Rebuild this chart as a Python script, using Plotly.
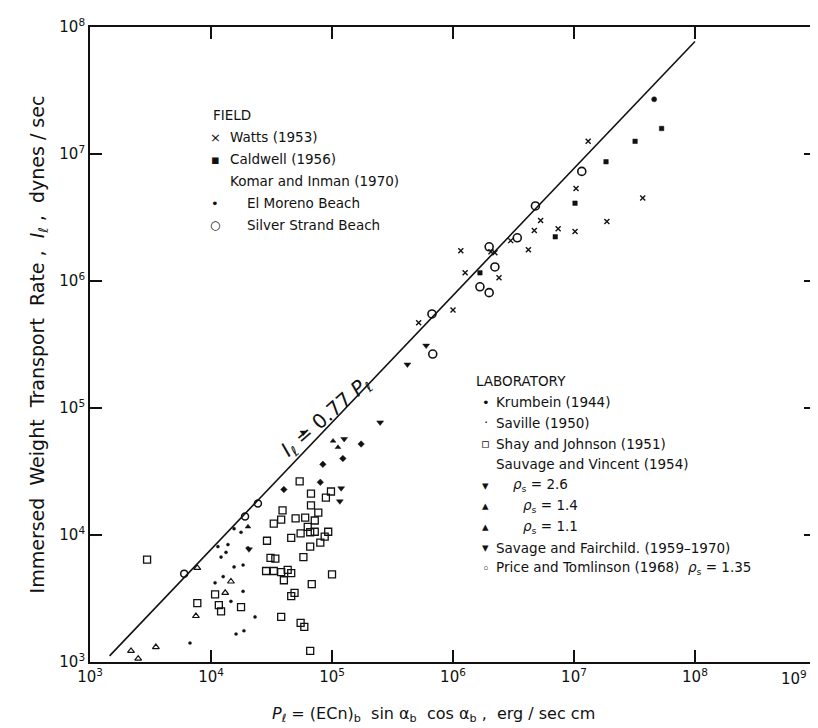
import plotly.graph_objects as go

# ---------------- data ----------------
# FIELD
watts_P = [1.31e7, 1.04e7, 1.87e7, 1.02e7, 7.4e6, 5.3e6, 4.7e6, 4.2e6, 3.0e6, 2.22e6,
           2.4e6, 1.16e6, 1.26e6, 1.0e6, 5.2e5, 3.7e7, 2.06e6]
watts_I = [1.26e7, 5.35e6, 2.94e6, 2.45e6, 2.58e6, 3.0e6, 2.5e6, 1.76e6, 2.08e6, 1.67e6,
           1.06e6, 1.73e6, 1.16e6, 5.9e5, 4.7e5, 4.5e6, 1.70e6]

caldwell_P = [3.2e7, 5.3e7, 1.84e7, 1.02e7, 7.0e6, 1.67e6]
caldwell_I = [1.26e7, 1.59e7, 8.7e6, 4.1e6, 2.23e6, 1.16e6]

elmoreno_P = [4.6e7]
elmoreno_I = [2.7e7]

silver_P = [1.16e7, 4.8e6, 3.4e6, 1.99e6, 2.22e6, 1.67e6, 1.99e6, 6.7e5, 6.8e5]
silver_I = [7.3e6, 3.9e6, 2.19e6, 1.86e6, 1.29e6, 9.0e5, 8.1e5, 5.5e5, 2.66e5]

# LABORATORY
krumbein_P = [1.23e5, 1.74e5, 8.4e4, 8.0e4, 4.0e4]
krumbein_I = [4.0e4, 5.2e4, 3.6e4, 2.6e4, 2.28e4]

saville_P = [2.31e4, 1.84e4, 1.46e4, 1.26e4, 1.08e4, 1.87e4, 1.61e4, 6.7e3, 1.55e4, 1.38e4,
             1.55e4, 1.14e4, 1.77e4, 2.02e4, 1.84e4, 1.21e4, 1.33e4]
saville_I = [2.26e3, 3.6e3, 3.0e3, 4.7e3, 4.2e3, 1.76e3, 1.66e3, 1.41e3, 1.12e4, 8.4e3,
             5.6e3, 8.1e3, 1.05e4, 7.9e3, 5.8e3, 6.7e3, 7.3e3]

shay_P = [5.4e4, 9.8e4, 6.7e4, 8.9e4, 6.7e4, 3.9e4, 7.7e4, 5.0e4, 6.0e4, 7.2e4,
          6.3e4, 3.3e4, 3.8e4, 7.2e4, 9.3e4, 6.6e4, 5.5e4, 8.7e4, 4.6e4, 2.9e4,
          8.0e4, 6.6e4, 5.8e4, 3.1e4, 3.4e4, 2.85e4, 3.3e4, 3.8e4, 4.3e4, 4.6e4,
          1.0e5, 4.0e4, 6.8e4, 4.9e4, 4.6e4, 3.8e4, 5.5e4, 5.9e4, 6.6e4, 1.77e4,
          1.08e4, 7.7e3, 1.16e4, 1.21e4, 2.96e3]
shay_I = [2.64e4, 2.2e4, 2.12e4, 1.97e4, 1.71e4, 1.56e4, 1.50e4, 1.35e4, 1.37e4, 1.30e4,
          1.16e4, 1.23e4, 1.32e4, 1.06e4, 1.06e4, 1.05e4, 1.03e4, 9.7e3, 9.5e3, 9.0e3,
          8.7e3, 8.1e3, 6.7e3, 6.6e3, 6.5e3, 5.2e3, 5.2e3, 5.1e3, 5.3e3, 5.0e3,
          4.9e3, 4.4e3, 4.1e3, 3.5e3, 3.3e3, 2.26e3, 2.03e3, 1.89e3, 1.22e3, 2.7e3,
          3.4e3, 2.9e3, 2.8e3, 2.5e3, 6.4e3]

sv26_P = [1.19e5, 1.16e5, 2.06e4]
sv26_I = [2.33e4, 1.84e4, 7.7e3]

sv14_P = [2.18e3, 3.5e3, 2.5e3, 7.5e3, 1.31e4, 1.46e4, 7.7e3]
sv14_I = [1.22e3, 1.31e3, 1.06e3, 2.3e3, 3.5e3, 4.3e3, 5.5e3]

sv11_P = [2.02e4, 1.12e5, 1.02e5]
sv11_I = [1.16e4, 4.9e4, 5.5e4]

fair_P = [6.0e5, 4.2e5, 2.5e5, 5.8e4, 1.26e5]
fair_I = [3.1e5, 2.2e5, 7.7e4, 6.4e4, 5.7e4]

price_P = [6.0e3, 1.91e4, 2.44e4]
price_I = [4.96e3, 1.40e4, 1.77e4]

# fitted relation I = K * P
K = 0.77
line_P = [1.45e3, 1.0e8]
line_I = [K * p for p in line_P]

x_tick_exp = [3, 4, 5, 6, 7, 8, 9]
y_tick_exp = [3, 4, 5, 6, 7, 8]

# ---------------- figure ----------------
FONT = "DejaVu Sans"
BLACK = "#111111"
NB = "\u00a0"

fig = go.Figure()

fig.add_trace(go.Scatter(x=line_P, y=line_I, mode="lines",
                         line=dict(color=BLACK, width=1.6), hoverinfo="skip"))


def pts(x, y, symbol, size, lw=1.2):
    fig.add_trace(go.Scatter(
        x=x, y=y, mode="markers",
        marker=dict(symbol=symbol, size=size, color=BLACK,
                    line=dict(color=BLACK, width=lw))))


pts(watts_P, watts_I, "x-thin", 5, lw=1.4)
pts(caldwell_P, caldwell_I, "square", 4.5, lw=0.5)
pts(elmoreno_P, elmoreno_I, "circle", 5, lw=0.5)
pts(silver_P, silver_I, "circle-open", 8, lw=1.6)
pts(krumbein_P, krumbein_I, "diamond", 5, lw=0.5)
pts(saville_P, saville_I, "circle", 3.2, lw=0.3)
pts(shay_P, shay_I, "square-open", 7, lw=1.3)
pts(sv26_P, sv26_I, "triangle-down", 6, lw=0.5)
pts(sv14_P, sv14_I, "triangle-up-open", 6, lw=1.2)
pts(sv11_P, sv11_I, "triangle-up", 5, lw=0.5)
pts(fair_P, fair_I, "triangle-down", 6, lw=0.5)
pts(price_P, price_I, "circle-open", 7, lw=1.5)

TICKFONT = dict(family=FONT, size=15, color=BLACK)
axis_common = dict(
    type="log", showgrid=False, zeroline=False,
    showline=True, linecolor=BLACK, linewidth=1.8, mirror="ticks",
    ticks="inside", ticklen=12, tickwidth=1.5, tickcolor=BLACK,
    tickfont=TICKFONT, automargin=False,
)

# the last x label sits in the corner and is drawn separately below
x_labels = [f"10<sup>{e}</sup>" for e in x_tick_exp]
fig.update_xaxes(**axis_common, range=[2.9995, 9.0005],
                 tickvals=[10 ** e for e in x_tick_exp],
                 ticktext=x_labels[:-1] + [""])
ytitle = (f"Immersed{NB}{NB}Weight{NB}{NB}Transport{NB}{NB}Rate{NB},{NB}{NB}"
          f"<i>I</i><sub>ℓ</sub>{NB},{NB}{NB}dynes{NB}/{NB}sec")
fig.update_yaxes(**axis_common, range=[2.9995, 8.0005],
                 tickvals=[10 ** e for e in y_tick_exp],
                 ticktext=[f"10<sup>{e}</sup>" for e in y_tick_exp],
                 title=dict(text=ytitle,
                            font=dict(family=FONT, size=19, color=BLACK), standoff=10))

# ---------------- legend as text ----------------
L, R, T, B = 82, 10, 19, 74
W, H = 818 - L - R, 728 - T - B


def px(xp, yp):
    return (xp - L) / W, (728 - B - yp) / H


def txt(xp, yp, s, size=13.5, anchor="left"):
    xx, yy = px(xp, yp)
    fig.add_annotation(x=xx, y=yy, xref="paper", yref="paper", text=s, showarrow=False,
                       xanchor=anchor, yanchor="middle",
                       font=dict(family=FONT, size=size, color=BLACK))


def key(xp, yp, s, size=13):
    xx, yy = px(xp, yp)
    fig.add_annotation(x=xx, y=yy, xref="paper", yref="paper", text=s, showarrow=False,
                       xanchor="center", yanchor="middle",
                       font=dict(family=FONT, size=size, color=BLACK))


# corner tick label for 10^9
xx, yy = px(786, 670)
fig.add_annotation(x=xx, y=yy, xref="paper", yref="paper", text=x_labels[-1],
                   showarrow=False, xanchor="center", yanchor="middle", font=TICKFONT)

xtitle = (f"<i>P</i><sub>ℓ</sub>{NB}={NB}(ECn)<sub>b</sub>{NB}{NB}sin{NB}α<sub>b</sub>{NB}{NB}"
          f"cos{NB}α<sub>b</sub>{NB},{NB}{NB}erg{NB}/{NB}sec{NB}cm")
txt(425, 706, xtitle, size=16, anchor="center")

field_keys = [("×", "Watts (1953)", 220), ("▪", "Caldwell (1956)", 220),
              ("", "Komar and Inman (1970)", 220), ("•", "El Moreno Beach", 237),
              ("○", "Silver Strand Beach", 237)]
txt(203, 107, "FIELD")
for i, (k, s, tx) in enumerate(field_keys):
    yy = 129 + 22 * i
    if k:
        key(207, yy, k, size=12 if k == "○" else 13)
    txt(tx, yy, s)

lab_keys = [("•", "Krumbein (1944)", 486), ("·", "Saville (1950)", 486),
            ("▫", "Shay and Johnson (1951)", 486), ("", "Sauvage and Vincent (1954)", 486),
            ("▾", "<i>ρ</i><sub>s</sub> = 2.6", 503), ("▴", "<i>ρ</i><sub>s</sub> = 1.4", 513),
            ("▴", "<i>ρ</i><sub>s</sub> = 1.1", 513), ("▾", "Savage and Fairchild. (1959–1970)", 486),
            ("◦", "Price and Tomlinson (1968)  <i>ρ</i><sub>s</sub> = 1.35", 486)]
txt(466, 373, "LABORATORY")
for i, (k, s, tx) in enumerate(lab_keys):
    yy = 394 + 20.8 * i
    if k:
        key(478, yy, k)
    txt(tx, yy, s)

# relation label along the line (log10 coordinates)
fig.add_annotation(x=4.95, y=4.93, xref="x", yref="y", showarrow=False,
                   text="<i>I</i><sub>ℓ</sub> = 0.77 <i>P</i><sub>ℓ</sub>", textangle=-41,
                   font=dict(family=FONT, size=20, color=BLACK))

fig.update_layout(
    width=818, height=728, showlegend=False,
    margin=dict(l=L, r=R, t=T, b=B),
    paper_bgcolor="white", plot_bgcolor="white",
    font=dict(family=FONT, color=BLACK),
)

fig.write_html("out.html")
